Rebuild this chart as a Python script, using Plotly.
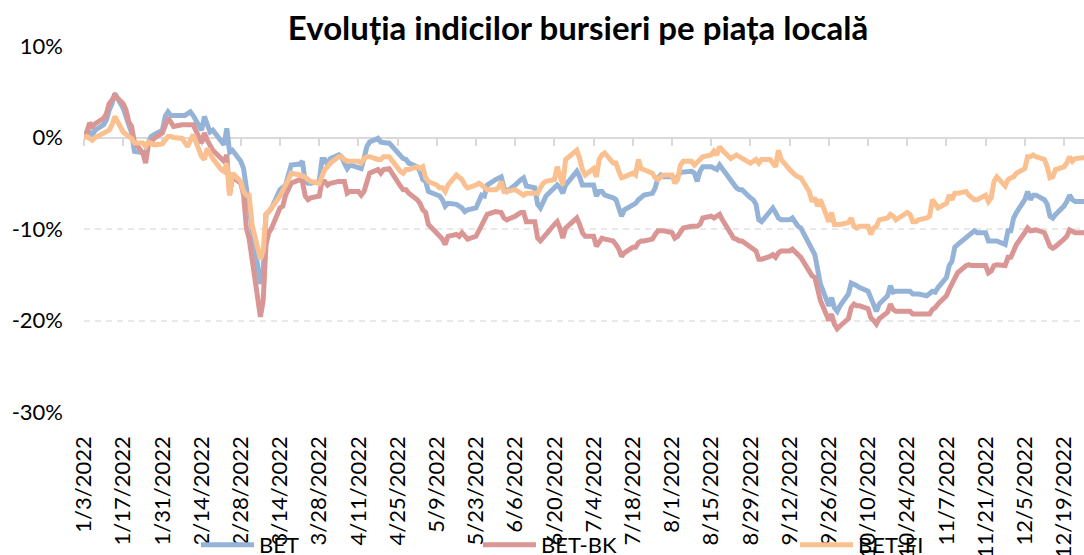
import plotly.graph_objects as go

# ---- data (percent change since 1/3/2022) ----
dates_md = [
    "01-03","01-04","01-05","01-06","01-07",
    "01-10","01-11","01-12","01-13","01-14",
    "01-17","01-18","01-19","01-20","01-21",
    "01-24","01-25","01-26","01-27","01-28",
    "01-31","02-01","02-02","02-03","02-04",
    "02-07","02-08","02-09","02-10","02-11",
    "02-14","02-15","02-16","02-17","02-18",
    "02-21","02-22","02-23","02-24","02-25",
    "02-28","03-01","03-02","03-03","03-04",
    "03-07","03-08","03-09","03-10","03-11",
    "03-14","03-15","03-16","03-17","03-18",
    "03-21","03-22","03-23","03-24","03-25",
    "03-28","03-29","03-30","03-31","04-01",
    "04-04","04-05","04-06","04-07","04-08",
    "04-11","04-12","04-13","04-14","04-15",
    "04-18","04-19","04-20","04-21","04-22",
    "04-26","04-27","04-28","04-29",
    "05-02","05-03","05-04","05-05","05-06",
    "05-09","05-10","05-11","05-12","05-13",
    "05-16","05-17","05-18","05-19","05-20",
    "05-23","05-24","05-25","05-26","05-27",
    "05-30","05-31","06-01","06-02","06-03",
    "06-06","06-07","06-08","06-09","06-10",
    "06-13","06-14","06-15","06-16","06-17",
    "06-20","06-21","06-22","06-23","06-24",
    "06-27","06-28","06-29","06-30","07-01",
    "07-04","07-05","07-06","07-07","07-08",
    "07-11","07-12","07-13","07-14","07-15",
    "07-18","07-19","07-20","07-21","07-22",
    "07-25","07-26","07-27","07-28","07-29",
    "08-01","08-02","08-03","08-04","08-05",
    "08-08","08-09","08-10","08-11","08-12",
    "08-15","08-16","08-17","08-18","08-19",
    "08-22","08-23","08-24","08-25","08-26",
    "08-29","08-30","08-31","09-01","09-02",
    "09-05","09-06","09-07","09-08","09-09",
    "09-12","09-13","09-14","09-15","09-16",
    "09-19","09-20","09-21","09-22","09-23",
    "09-26","09-27","09-28","09-29","09-30",
    "10-03","10-04","10-05","10-06","10-07",
    "10-10","10-11","10-12","10-13","10-14",
    "10-17","10-18","10-19","10-20","10-21",
    "10-24","10-25","10-26","10-27","10-28",
    "10-31","11-01","11-02","11-03","11-04",
    "11-07","11-08","11-09","11-10","11-11",
    "11-14","11-15","11-16","11-17","11-18",
    "11-21","11-22","11-23","11-24","11-25",
    "11-28","11-29","11-30","12-01","12-02",
    "12-05","12-06","12-07","12-08","12-09",
    "12-12","12-13","12-14","12-15","12-16",
    "12-19","12-20","12-21","12-22","12-23",
    "12-27","12-28",
]

bet = [
    0, 0.3, 0.6, 0.3, 0.8,
    1.4, 1.9, 3.0, 3.7, 4.8,
    3.2, 2.3, 1.2, 0.5, -1.5,
    -1.7, -1.7, -0.5, 0.1, 0.3,
    0.8, 2.3, 2.8, 2.4, 2.4,
    2.4, 2.4, 2.6, 2.8, 2.4,
    0.8, 2.3, 1.2, 0.6, 0.8,
    -0.5, -0.8, 1.0, -1.6, -1.4,
    -2.6, -3.4, -5.2, -7.7, -9.9,
    -16.0, -14.5, -8.4, -8.1, -7.7,
    -5.7, -5.5, -5.2, -4.1, -3.0,
    -2.9, -2.6, -4.8, -5.0, -5.0,
    -4.8, -2.4, -2.4, -3.0, -2.3,
    -1.9, -2.1, -2.8, -3.4, -3.0,
    -3.2, -3.4, -2.3, -1.0, -0.5,
    -0.1, -0.5, -0.6, -0.6, -0.6,
    -2.1, -2.3, -2.4, -2.8,
    -3.2, -3.7, -4.6, -4.8, -5.9,
    -6.3, -6.4, -6.8, -7.5, -7.2,
    -7.3, -7.5, -7.7, -8.1, -7.9,
    -7.7, -6.8, -6.3, -6.4, -5.2,
    -4.6, -4.4, -4.3, -5.5, -5.9,
    -5.2, -4.8, -4.6, -4.4, -5.3,
    -5.5, -7.3, -7.7, -7.0, -6.4,
    -5.5, -5.2, -5.5, -6.1, -5.2,
    -4.1, -3.7, -4.3, -5.2, -5.2,
    -5.2, -6.4, -5.9, -5.9, -6.3,
    -6.6, -6.8, -7.7, -8.6, -7.9,
    -7.3, -7.2, -6.8, -6.6, -6.3,
    -6.1, -5.5, -4.4, -4.1, -4.3,
    -4.3, -4.6, -4.3, -3.8, -3.8,
    -3.7, -3.9, -4.8, -3.7, -3.2,
    -3.2, -3.3, -3.5, -3.0, -3.4,
    -4.6, -5.2, -5.5, -5.7, -5.7,
    -6.6, -6.8, -7.3, -9.0, -9.2,
    -8.2, -7.7, -8.2, -8.8, -9.0,
    -9.0, -8.8, -9.3, -9.7, -9.9,
    -11.7, -12.4, -12.8, -14.4, -16.0,
    -18.4, -17.5, -18.6, -19.0, -18.4,
    -17.1, -15.9, -16.0, -16.2, -16.4,
    -16.8, -17.5, -18.2, -19.0, -18.2,
    -17.3, -16.2, -16.9, -16.8, -16.8,
    -16.9, -16.8, -17.1, -17.1, -17.1,
    -17.3, -17.1, -16.8, -16.9, -16.4,
    -15.3, -14.0, -13.5, -12.0, -11.7,
    -11.0, -10.8, -10.4, -10.2, -10.4,
    -10.4, -11.3, -11.3, -11.3, -11.3,
    -11.7, -10.2, -10.2, -8.8, -8.2,
    -6.8, -5.9, -6.8, -6.3, -6.3,
    -6.8, -7.3, -8.6, -8.8, -8.4,
    -7.5, -7.0, -6.3, -6.8, -7.0,
    -7.0, -7.0,
]

bet_bk = [
    0, 0.6, 1.6, 1.2, 1.5,
    2.1, 2.6, 3.7, 4.1, 4.6,
    3.7, 3.0, 1.7, 1.2, -0.5,
    -1.7, -2.8, -0.8, -0.5, -0.1,
    0.5, 1.4, 2.1, 1.7, 1.2,
    1.4, 1.4, 1.5, 1.5, 1.4,
    -0.6, 0.5, -0.3, -1.0, -1.4,
    -2.3, -2.6, -1.9, -6.3, -4.3,
    -5.0, -6.3, -9.9, -11.1, -13.1,
    -19.6, -17.8, -11.7, -10.4, -9.9,
    -7.7, -7.5, -6.3, -5.5, -5.0,
    -4.6, -4.8, -6.4, -6.8, -6.6,
    -6.4, -4.8, -4.8, -5.2, -5.0,
    -4.8, -4.8, -4.8, -6.1, -5.9,
    -5.9, -6.3, -5.9, -4.8, -3.9,
    -3.5, -3.9, -3.5, -3.4, -3.4,
    -5.3, -5.7, -5.7, -6.1,
    -6.8, -7.2, -7.9, -8.2, -9.5,
    -10.4, -10.8, -11.1, -11.7, -10.8,
    -10.6, -10.8, -10.4, -10.8, -11.1,
    -10.8, -10.2, -9.9, -9.2, -8.4,
    -8.1, -8.2, -8.2, -8.8, -9.0,
    -8.6, -8.4, -8.2, -8.2, -9.2,
    -9.2, -11.0, -11.3, -11.0, -10.6,
    -9.5, -9.2, -9.9, -11.0, -9.9,
    -9.2, -8.8, -9.5, -10.4, -10.8,
    -10.8, -11.9, -11.5, -11.0, -11.1,
    -11.3, -11.7, -12.2, -13.0, -12.6,
    -12.0, -12.0, -11.5, -11.3, -11.3,
    -11.1, -10.6, -10.2, -10.2, -10.2,
    -10.4, -11.0, -10.8, -10.2, -9.9,
    -9.7, -9.7, -9.7, -9.5, -8.8,
    -8.6, -8.8, -8.6, -8.4, -9.0,
    -10.4, -11.0, -11.1, -11.3, -11.3,
    -12.0, -12.2, -12.4, -13.3, -13.3,
    -13.0, -12.8, -13.1, -12.6, -12.4,
    -12.4, -12.2, -12.6, -12.8, -13.1,
    -14.6, -15.1, -15.3, -16.8, -17.8,
    -20.0, -19.3, -20.4, -20.9, -20.6,
    -19.8, -18.6, -18.2, -18.4, -18.4,
    -18.7, -19.7, -20.0, -20.4, -19.8,
    -19.1, -18.2, -18.8, -19.0, -19.0,
    -19.0, -19.0, -19.3, -19.3, -19.3,
    -19.3, -19.3, -18.8, -18.6, -18.2,
    -17.3, -16.6, -16.0, -15.3, -14.8,
    -14.0, -13.9, -14.0, -14.0, -14.0,
    -14.0, -14.8, -14.6, -14.0, -13.9,
    -14.0, -13.1, -13.1, -12.2, -11.7,
    -10.4, -9.9, -10.2, -10.2, -10.1,
    -10.4, -11.0, -11.9, -12.1, -11.9,
    -11.1, -10.8, -10.1, -10.2, -10.4,
    -10.4, -10.4,
]

bet_fi = [
    0, 0.1, -0.1, -0.3, 0.0,
    0.5, 0.6, 0.8, 1.4, 2.3,
    0.6, 0.3, 0.1, -0.1, -0.6,
    -0.6, -1.0, -0.5, -0.6, -0.8,
    -0.7, -0.3, 0.1, 0.1, 0.0,
    -0.1, -0.5, -1.0, -0.3, 0.3,
    -2.1, -2.4, -1.2, -1.9, -2.3,
    -3.5, -3.7, -2.8, -6.3, -3.9,
    -4.8, -5.9, -6.3, -6.3, -9.5,
    -13.3, -12.4, -8.4, -8.1, -7.7,
    -6.4, -5.9, -5.2, -4.6, -3.9,
    -4.1, -4.2, -4.3, -4.6, -4.8,
    -5.0, -4.3, -3.5, -3.2, -2.8,
    -2.1, -2.1, -2.4, -2.6, -2.6,
    -2.6, -2.8, -2.3, -2.1, -2.1,
    -2.4, -2.4, -2.1, -2.1, -2.1,
    -3.7, -3.9, -3.5, -3.5,
    -3.2, -3.4, -3.2, -4.4, -4.8,
    -5.2, -5.5, -5.5, -5.9, -5.2,
    -4.1, -4.3, -4.6, -5.2, -5.5,
    -5.2, -5.0, -5.2, -5.5, -5.7,
    -5.7, -5.5, -4.8, -5.9, -5.9,
    -5.7, -5.9, -6.1, -6.3, -6.1,
    -6.1, -6.1, -5.5, -5.0, -4.8,
    -4.6, -3.2, -4.4, -5.2, -2.4,
    -1.7, -1.4, -2.3, -3.5, -4.1,
    -3.4, -4.3, -2.4, -1.9, -1.7,
    -2.8, -2.8, -3.7, -4.4, -4.3,
    -3.9, -4.1, -2.4, -3.4, -3.5,
    -3.9, -4.4, -4.6, -4.3, -4.1,
    -4.1, -5.0, -4.6, -3.0, -2.6,
    -2.6, -3.0, -2.6, -2.4, -2.1,
    -1.9, -1.5, -1.9, -1.0, -1.4,
    -2.3, -2.1, -1.9, -2.1, -2.3,
    -2.8, -2.6, -2.4, -2.8, -2.4,
    -2.4, -2.8, -3.2, -1.4, -2.4,
    -3.5, -3.9, -4.1, -4.3, -4.4,
    -5.9, -7.0, -6.6, -7.5, -6.8,
    -9.2, -8.2, -9.5, -9.5, -9.5,
    -9.3, -8.8, -9.7, -9.9, -9.7,
    -9.7, -10.6, -9.9, -9.7, -9.0,
    -8.8, -8.4, -8.6, -9.0, -8.8,
    -8.2, -8.4, -9.2, -9.2, -9.0,
    -8.8, -8.6, -6.8, -7.2, -7.7,
    -7.2, -6.3, -6.8, -6.1, -6.1,
    -5.9, -6.3, -6.6, -6.8, -6.8,
    -6.3, -7.0, -6.6, -4.8, -4.3,
    -5.3, -4.6, -4.4, -4.3, -3.9,
    -3.4, -2.1, -2.1, -1.9, -2.1,
    -2.4, -3.2, -4.4, -4.3, -3.5,
    -3.2, -2.8, -2.1, -2.6, -2.3,
    -2.2, -2.2,
]

series_names = ["BET", "BET-BK", "BET-FI"]
series_colors = ["#95B3D7", "#D99694", "#FAC090"]
title_text = "Evoluția indicilor bursieri pe piața locală"
y_tickvals = [-30, -20, -10, 0, 10]
y_ticktext = ["-30%", "-20%", "-10%", "0%", "10%"]

dates = ["2022-" + d for d in dates_md]

FONT = "Lato"
fig = go.Figure()
legends = ["legend", "legend2", "legend3"]
for name, vals, col, lg in zip(series_names, [bet, bet_bk, bet_fi], series_colors, legends):
    fig.add_trace(go.Scatter(
        x=dates, y=vals, name=name, mode="lines",
        line=dict(color=col, width=5),
        legend=lg, showlegend=True,
    ))

leg_common = dict(orientation="h", yanchor="middle", y=-0.363, xanchor="left",
                  font=dict(family=FONT, size=22, color="#000000"),
                  bgcolor="rgba(0,0,0,0)", itemwidth=53, tracegroupgap=0,
                  visible=True)
fig.update_layout(
    width=1084, height=555,
    showlegend=True,
    margin=dict(l=84, r=0, t=46, b=143, autoexpand=False),
    paper_bgcolor="white", plot_bgcolor="white",
    title=dict(text="<b>" + title_text + "</b>", x=578 / 1084, xref="container",
               xanchor="center", y=1 - 28 / 555, yref="container", yanchor="middle",
               font=dict(family=FONT, size=33, color="#000000")),
    legend=dict(x=(196 - 84) / 1000, **leg_common),
    legend2=dict(x=(478 - 84) / 1000, **leg_common),
    legend3=dict(x=(795 - 84) / 1000, **leg_common),
    xaxis=dict(
        type="date", automargin=False,
        range=["2022-01-03", "2022-12-26 03:26"],
        tick0="2022-01-03", dtick=14 * 86400000,
        tickformat="%-m/%-d/%Y", tickangle=-90,
        anchor="free", position=0.75,
        showline=True, linecolor="#D9D9D9", linewidth=2,
        ticks="outside", ticklen=7, tickwidth=2, tickcolor="#D9D9D9",
        ticklabelstandoff=282,
        showgrid=False, zeroline=False, layer="below traces",
        tickfont=dict(family=FONT, size=22, color="#000000"),
    ),
    yaxis=dict(
        range=[-30, 10], automargin=False,
        tickvals=y_tickvals, ticktext=y_ticktext,
        showgrid=True, gridcolor="#E8E8E8", gridwidth=1.5, griddash="6px,5px",
        zeroline=False, showline=False, ticks="",
        ticklabelstandoff=20,
        tickfont=dict(family=FONT, size=22, color="#000000"),
    ),
)

fig.write_html("out.html", config={"displayModeBar": False},
               post_script="document.body.style.margin='0px';")
